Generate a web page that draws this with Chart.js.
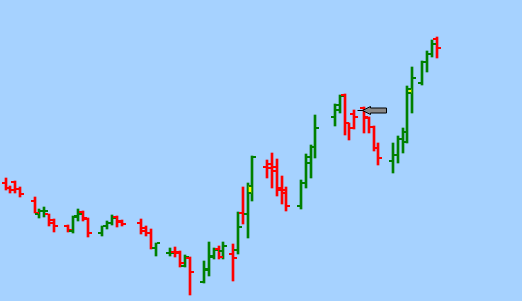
<!DOCTYPE html>
<html>
<head>
<meta charset="utf-8">
<script src="https://cdn.jsdelivr.net/npm/chart.js@4.4.1/dist/chart.umd.min.js"></script>
<style>
  html, body { margin: 0; padding: 0; background: #a6d2ff; }
  #wrap { width: 522px; height: 301px; }
</style>
</head>
<body>
<div id="wrap"><canvas id="chart" width="522" height="301"></canvas></div>
<script>
// trading day index (gaps = days without trading)
var days = [0, 1, 2, 3, 6, 7, 8, 9, 10, 13, 14, 15, 16, 17, 20, 21, 22, 23, 24,
  28, 29, 30, 31, 34, 35, 36, 37, 38, 41, 42, 43, 44, 45, 47, 48, 49, 50, 51,
  54, 55, 56, 57, 58, 61, 62, 63, 64, 68, 69, 70, 71, 72, 74, 75, 76, 77,
  80, 81, 82, 83, 84, 86, 87, 88, 89];
var opens = [111.80, 111.30, 111.90, 111.20, 110.05, 108.70, 108.95, 108.65, 108.10,
  107.53, 107.00, 108.40, 108.90, 108.20, 106.80, 107.45, 107.77, 108.40, 108.00,
  107.85, 107.25, 106.85, 105.25, 104.80, 104.93, 104.90, 103.50, 104.27,
  101.93, 103.10, 104.43, 105.17, 105.03, 104.67, 105.10, 108.77, 108.67, 110.77,
  113.43, 113.65, 113.40, 111.10, 111.10, 109.53, 111.80, 113.77, 115.43,
  118.43, 119.10, 120.60, 117.75, 118.70, 119.30, 118.27, 117.43, 115.27,
  114.03, 114.60, 116.17, 115.93, 120.75, 121.83, 123.87, 124.67, 126.17];
var highs = [112.30, 111.50, 112.00, 111.40, 110.40, 109.20, 109.40, 108.70, 108.20,
  107.60, 108.50, 109.20, 108.95, 108.30, 107.50, 108.03, 108.60, 108.45, 108.10,
  108.20, 107.45, 107.20, 105.85, 105.27, 105.37, 105.00, 104.60, 104.43,
  104.00, 105.87, 105.33, 105.50, 105.87, 105.70, 108.87, 111.43, 111.83, 114.50,
  114.10, 114.83, 114.17, 112.50, 111.37, 112.10, 114.70, 115.60, 118.60,
  119.70, 120.60, 120.70, 117.77, 119.10, 119.37, 118.37, 117.50, 115.83,
  115.77, 116.50, 117.27, 121.50, 123.37, 124.03, 125.03, 126.10, 126.43];
var lows = [111.10, 110.80, 110.80, 110.40, 108.75, 108.30, 108.40, 107.50, 106.90,
  106.90, 106.80, 108.00, 108.00, 106.40, 106.50, 107.17, 107.60, 107.43, 107.45,
  106.65, 106.45, 105.15, 104.53, 104.53, 104.43, 103.37, 103.43, 100.60,
  101.77, 102.50, 104.17, 104.17, 104.17, 102.03, 104.70, 107.70, 106.35, 110.03,
  112.27, 111.27, 110.50, 109.67, 109.03, 109.20, 111.33, 112.33, 114.33,
  117.53, 118.77, 116.60, 116.10, 117.20, 116.83, 116.83, 115.03, 113.60,
  112.77, 113.83, 114.83, 115.83, 118.83, 121.60, 122.93, 124.37, 124.33];
var closes = [111.30, 111.10, 111.20, 110.70, 108.85, 108.95, 109.00, 107.80, 107.45,
  107.10, 108.45, 108.70, 108.30, 106.85, 107.45, 107.77, 108.30, 107.93, 107.70,
  107.05, 106.85, 105.27, 105.75, 104.85, 104.85, 103.83, 104.43, 102.93,
  103.25, 104.50, 105.10, 104.43, 105.50, 104.33, 107.43, 108.65, 111.55, 114.40,
  113.35, 113.00, 111.27, 110.77, 109.50, 111.83, 114.43, 115.43, 117.27,
  119.60, 120.53, 117.77, 117.27, 118.37, 118.37, 117.43, 115.27, 114.27,
  114.60, 116.17, 116.93, 121.17, 122.33, 123.87, 124.70, 125.70, 125.27];

// highlighted opening gaps (between two sessions)
var gapDays = [50.5, 83.5];
var gapTop = [111.55, 121.17];
var gapBottom = [110.77, 120.75];

// arrow annotation, tip at (day, price)
var arrowDay = 72.6;
var arrowPrice = 119.1;

var upColor = '#008000';
var downColor = '#ff0000';

var barColors = days.map(function(d, i) {
  return closes[i] >= opens[i] ? upColor : downColor;
});

// open / close ticks
var tickPlugin = {
  id: 'ticks',
  afterDatasetsDraw: function(chart) {
    var ctx = chart.ctx;
    var xs = chart.scales.x, ys = chart.scales.y;
    ctx.save();
    for (var i = 0; i < days.length; i++) {
      var x = Math.round(xs.getPixelForValue(days[i]));
      var yo = Math.round(ys.getPixelForValue(opens[i]));
      var yc = Math.round(ys.getPixelForValue(closes[i]));
      ctx.fillStyle = barColors[i];
      ctx.fillRect(x - 4, yo - 1, 3, 2);
      ctx.fillRect(x + 1, yc - 1, 3, 2);
    }
    // arrow
    var ax = Math.round(xs.getPixelForValue(arrowDay)) + 0.5;
    var ay = Math.round(ys.getPixelForValue(arrowPrice)) + 0.5;
    ctx.strokeStyle = '#000';
    ctx.lineWidth = 1;
    ctx.beginPath();
    ctx.moveTo(ax, ay);
    ctx.lineTo(ax + 6, ay);
    ctx.stroke();
    ctx.fillStyle = '#888888';
    ctx.beginPath();
    ctx.moveTo(ax + 5, ay);
    ctx.lineTo(ax + 13, ay - 4);
    ctx.lineTo(ax + 13, ay - 2.5);
    ctx.lineTo(ax + 29, ay - 2.5);
    ctx.lineTo(ax + 29, ay + 2.5);
    ctx.lineTo(ax + 13, ay + 2.5);
    ctx.lineTo(ax + 13, ay + 4);
    ctx.closePath();
    ctx.fill();
    ctx.stroke();
    ctx.restore();
  }
};

var bgPlugin = {
  id: 'bg',
  beforeDraw: function(chart) {
    var ctx = chart.ctx;
    ctx.save();
    ctx.fillStyle = '#a6d2ff';
    ctx.fillRect(0, 0, chart.width, chart.height);
    ctx.restore();
  }
};

new Chart(document.getElementById('chart'), {
  type: 'bar',
  data: {
    datasets: [
      {
        label: 'gaps',
        data: gapDays.map(function(d, i) { return { x: d, y: [gapBottom[i], gapTop[i]] }; }),
        backgroundColor: '#ffff00',
        barThickness: 2,
        borderWidth: 0,
        grouped: false
      },
      {
        label: 'range',
        data: days.map(function(d, i) { return { x: d, y: [lows[i], highs[i]] }; }),
        backgroundColor: barColors,
        barThickness: 2,
        borderWidth: 0,
        grouped: false
      }
    ]
  },
  options: {
    responsive: false,
    animation: false,
    devicePixelRatio: 1,
    layout: { padding: 0 },
    plugins: { legend: { display: false }, tooltip: { enabled: false } },
    scales: {
      x: { type: 'linear', min: -1.136, max: 106.65, display: false, offset: false, alignToPixels: true },
      y: { min: 100, max: 130.1, display: false, alignToPixels: true }
    }
  },
  plugins: [bgPlugin, tickPlugin]
});
</script>
</body>
</html>
